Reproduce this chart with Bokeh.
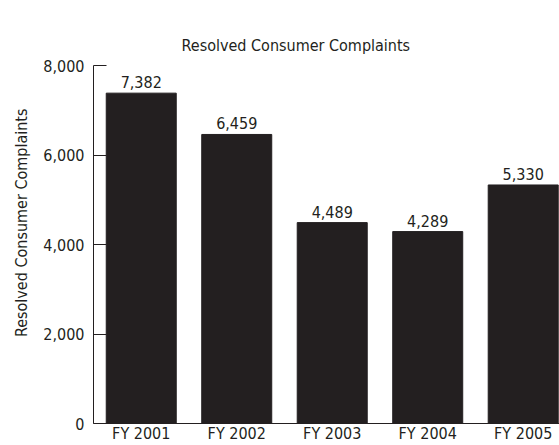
from bokeh.plotting import figure
from bokeh.models import (Range1d, FixedTicker, NumeralTickFormatter, ColumnDataSource,
                          Title, LinearAxis)
from bokeh.core.properties import value
from bokeh.embed import file_html
from bokeh.resources import INLINE

categories = ["FY 2001", "FY 2002", "FY 2003", "FY 2004", "FY 2005"]
complaints = [7382, 6459, 4489, 4289, 5330]
value_labels = ["7,382", "6,459", "4,489", "4,289", "5,330"]
y_ticks = [0, 2000, 4000, 6000, 8000]

FONT = "DejaVu Sans Condensed"
INK = "#231f20"

xs = list(range(len(categories)))
src = ColumnDataSource(dict(x=xs, y=complaints, lab=value_labels))

p = figure(width=559, height=445, output_backend="svg", toolbar_location=None,
           x_range=Range1d(-0.5, 4.38), y_range=Range1d(0, 8000),
           min_border_left=93, min_border_right=0, min_border_top=65,
           min_border_bottom=0)
p.title.text = "Resolved Consumer Complaints"
p.title.align = "left"
p.title.offset = 88
p.title.vertical_align = "top"
p.title.text_font = FONT
p.title.text_font_size = "16px"
p.title.text_font_style = "normal"
p.title.text_color = INK
p.title.standoff = 18

# bottom category axis (grab it before adding the spacer axis)
xa = p.below[0]

# invisible spacer between title and plot frame
spacer = LinearAxis(ticker=FixedTicker(ticks=[]), major_tick_out=28, major_tick_in=0,
                    major_label_standoff=0, axis_line_color=None,
                    major_tick_line_color="white", minor_tick_line_color=None)
p.add_layout(spacer, "above")

ylab = Title(text="Resolved Consumer Complaints", align="right", offset=43,
             vertical_align="top", standoff=16, text_font=FONT,
             text_font_size="16px", text_font_style="normal", text_color=INK)
p.add_layout(ylab, "left")

p.vbar(x="x", top="y", width=0.733, bottom=0, source=src,
       fill_color=INK, line_color=INK)
p.text(x="x", y="y", text="lab", source=src, text_align="center",
       text_baseline="bottom", y_offset=-5, text_font=value(FONT),
       text_font_size="16px", text_color=INK)

p.outline_line_color = None
p.xgrid.grid_line_color = None
p.ygrid.grid_line_color = None
p.background_fill_color = "white"

xa.ticker = FixedTicker(ticks=xs)
xa.major_label_overrides = {i: c for i, c in enumerate(categories)}
xa.major_tick_in = 0
xa.major_tick_out = 0
xa.minor_tick_line_color = None
xa.major_label_standoff = 0
xa.axis_label = None
xa.axis_label_standoff = 0
xa.major_label_text_font = FONT
xa.major_label_text_font_size = "16px"
xa.major_label_text_color = INK
xa.axis_line_color = INK

ya = p.left[0]
ya.ticker = FixedTicker(ticks=y_ticks)
ya.formatter = NumeralTickFormatter(format="0,0")
ya.major_tick_in = 13
ya.major_tick_out = 0
ya.minor_tick_line_color = None
ya.major_tick_line_color = INK
ya.axis_line_color = INK
ya.major_label_standoff = 9
ya.major_label_text_font = FONT
ya.major_label_text_font_size = "16px"
ya.major_label_text_color = INK
ya.axis_label = None

open("out.html", "w").write(file_html(p, INLINE))
